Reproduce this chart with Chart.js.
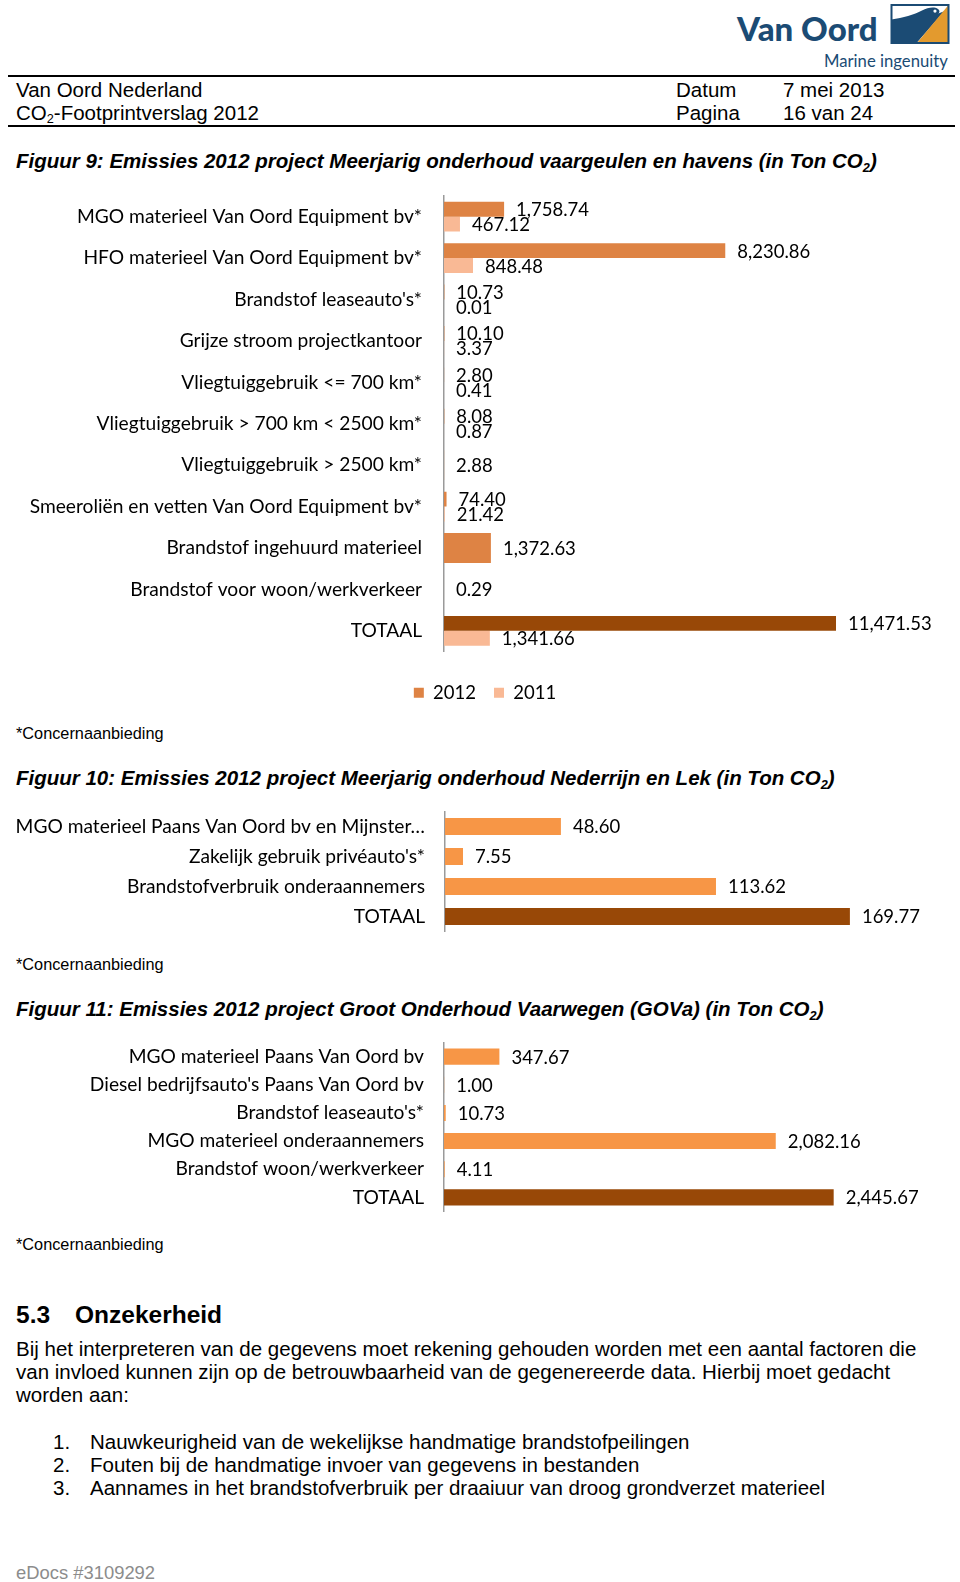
<!DOCTYPE html>
<html><head><meta charset="utf-8">
<script src="https://cdn.jsdelivr.net/npm/chart.js@4.4.1/dist/chart.umd.min.js"></script>
<style>
html,body{margin:0;padding:0;background:#fff;}
#page{position:relative;width:960px;height:1582px;overflow:hidden;font-family:"Liberation Sans",Arial,sans-serif;color:#000;}
.t{position:absolute;white-space:nowrap;line-height:1;}
.rule{position:absolute;left:8px;width:947px;height:2px;background:#000;}
.sub{font-size:0.62em;position:relative;top:0.3em;}
.hd{font-size:20.5px;}
.ttl{font-size:20.5px;font-weight:bold;font-style:italic;left:16px;}
.cn{font-size:16.3px;left:16px;}
.p{position:absolute;left:16px;font-size:20.5px;line-height:23.2px;white-space:nowrap;}
canvas{position:absolute;left:0;}
</style></head>
<body><div id="page">
<svg style="position:absolute;left:0;top:0" width="960" height="75">
  <rect x="891.5" y="5" width="57" height="38" fill="#fff"/>
  <path d="M891.5,19.5 C903,18 914,14.5 922,10.5 C928,7.5 934,6.3 938,9 C940.5,11 939.5,13.5 937,14 L944.2,11.2 L917,42.5 L891.5,42.5 Z" fill="#1b4b74"/>
  <circle cx="935" cy="11.1" r="1.6" fill="#fff"/>
  <polygon points="917,43 948.5,43 948.5,5" fill="#e39a2e"/>
  <rect x="891.5" y="5" width="57" height="38" fill="none" stroke="#1b4b74" stroke-width="2"/>
</svg>
<div class="t" style="left:737px;top:12px;font-family:Lato;font-weight:900;font-size:33px;color:#1b4b74;">Van Oord</div>
<div class="t" style="left:824px;top:53px;font-family:Lato;font-size:16.7px;color:#1b4b74;">Marine ingenuity</div>

<div class="rule" style="top:74.5px;"></div>
<div class="t hd" style="left:16px;top:79.5px;">Van Oord Nederland</div>
<div class="t hd" style="left:16px;top:102.5px;">CO<span class="sub">2</span>-Footprintverslag 2012</div>
<div class="t hd" style="left:676px;top:79.5px;">Datum</div>
<div class="t hd" style="left:783px;top:79.5px;">7 mei 2013</div>
<div class="t hd" style="left:676px;top:102.5px;">Pagina</div>
<div class="t hd" style="left:783px;top:102.5px;">16 van 24</div>
<div class="rule" style="top:124.5px;"></div>

<div class="t ttl" style="top:151px;">Figuur 9: Emissies 2012 project Meerjarig onderhoud vaargeulen en havens (in Ton CO<span class="sub">2</span>)</div>
<canvas id="c1" width="960" height="528" style="top:184px;width:960px;height:528px;"></canvas>
<div class="t cn" style="top:725px;">*Concernaanbieding</div>

<div class="t ttl" style="top:768px;">Figuur 10: Emissies 2012 project Meerjarig onderhoud Nederrijn en Lek (in Ton CO<span class="sub">2</span>)</div>
<canvas id="c2" width="960" height="143" style="top:800px;width:960px;height:143px;"></canvas>
<div class="t cn" style="top:956px;">*Concernaanbieding</div>

<div class="t ttl" style="top:999px;">Figuur 11: Emissies 2012 project Groot Onderhoud Vaarwegen (GOVa) (in Ton CO<span class="sub">2</span>)</div>
<canvas id="c3" width="960" height="192" style="top:1030.5px;width:960px;height:192px;"></canvas>
<div class="t cn" style="top:1236px;">*Concernaanbieding</div>

<div class="t" style="left:16px;top:1303px;font-size:24.5px;font-weight:bold;">5.3</div>
<div class="t" style="left:75px;top:1303px;font-size:24.5px;font-weight:bold;">Onzekerheid</div>
<div class="p" style="top:1337px;">Bij het interpreteren van de gegevens moet rekening gehouden worden met een aantal factoren die<br>van invloed kunnen zijn op de betrouwbaarheid van de gegenereerde data. Hierbij moet gedacht<br>worden aan:</div>
<div class="p" style="top:1430px;left:53px;">1.<br>2.<br>3.</div>
<div class="p" style="top:1430px;left:90px;">Nauwkeurigheid van de wekelijkse handmatige brandstofpeilingen<br>Fouten bij de handmatige invoer van gegevens in bestanden<br>Aannames in het brandstofverbruik per draaiuur van droog grondverzet materieel</div>
<div class="t" style="left:16px;top:1564px;font-size:18.4px;color:#8c8c8c;">eDocs #3109292</div>
</div>

<script>
// ---- data ----
const fig9Categories = [
  "MGO materieel Van Oord Equipment bv*",
  "HFO materieel Van Oord Equipment bv*",
  "Brandstof leaseauto's*",
  "Grijze stroom projectkantoor",
  "Vliegtuiggebruik <= 700 km*",
  "Vliegtuiggebruik > 700 km < 2500 km*",
  "Vliegtuiggebruik > 2500 km*",
  "Smeeroliën en vetten Van Oord Equipment bv*",
  "Brandstof ingehuurd materieel",
  "Brandstof voor woon/werkverkeer",
  "TOTAAL"
];
const fig9Values2012 = [1758.74, 8230.86, 10.73, 10.10, 2.80, 8.08, 2.88, 74.40, 1372.63, 0.29, 11471.53];
const fig9Values2011 = [467.12, 848.48, 0.01, 3.37, 0.41, 0.87, null, 21.42, null, null, 1341.66];
const fig9SeriesNames = ["2012", "2011"];

const fig10Categories = [
  "MGO materieel Paans Van Oord bv en Mijnster…",
  "Zakelijk gebruik privéauto's*",
  "Brandstofverbruik onderaannemers",
  "TOTAAL"
];
const fig10Values = [48.60, 7.55, 113.62, 169.77];

const fig11Categories = [
  "MGO materieel Paans Van Oord bv",
  "Diesel bedrijfsauto's Paans Van Oord bv",
  "Brandstof leaseauto's*",
  "MGO materieel onderaannemers",
  "Brandstof woon/werkverkeer",
  "TOTAAL"
];
const fig11Values = [347.67, 1.00, 10.73, 2082.16, 4.11, 2445.67];

// ---- styling ----
const C2012 = '#DE8344', C2011 = '#F9B995', CLIGHT = '#F79646', CTOTAL = '#984807';
const TICKFONT = {family: 'Lato', size: 19.2};
const VALFONT = {family: 'Lato', size: 18.5};
const fmt = v => v.toLocaleString('en-US', {minimumFractionDigits: 2, maximumFractionDigits: 2});

const valueLabels = {
  id: 'valueLabels',
  afterDatasetsDraw(chart) {
    const ctx = chart.ctx;
    ctx.save();
    ctx.font = VALFONT.size + 'px ' + VALFONT.family;
    ctx.fillStyle = '#000';
    ctx.textAlign = 'left';
    ctx.textBaseline = 'middle';
    chart.data.datasets.forEach((ds, i) => {
      const meta = chart.getDatasetMeta(i);
      meta.data.forEach((bar, j) => {
        const v = ds.data[j];
        if (v === null || v === undefined) return;
        ctx.fillText(fmt(v), bar.x + 12, bar.y + 1);
      });
    });
    ctx.restore();
  }
};

function totalColor(base, n) {
  return c => (c.dataIndex === n - 1 ? CTOTAL : base);
}

function catAxis(width, gap) {
  return {
    grid: {display: false, drawTicks: true, tickLength: gap},
    border: {display: true, color: '#9a9a9a', width: 1.5},
    ticks: {font: TICKFONT, color: '#000', padding: 0, autoSkip: false},
    afterFit: s => { s.width = width; }
  };
}

function build() {
  Chart.defaults.font.family = 'Lato';
  Chart.defaults.color = '#000';

  // Figure 9
  new Chart(document.getElementById('c1'), {
    type: 'bar',
    data: {
      labels: fig9Categories,
      datasets: [
        {label: fig9SeriesNames[0], data: fig9Values2012, backgroundColor: totalColor(C2012, fig9Categories.length), borderWidth: 0},
        {label: fig9SeriesNames[1], data: fig9Values2011, backgroundColor: C2011, borderWidth: 0}
      ]
    },
    options: {
      indexAxis: 'y', responsive: false, animation: false,
      layout: {padding: {top: 12, left: 10, right: 0, bottom: 0}},
      datasets: {bar: {categoryPercentage: 0.72, barPercentage: 1, skipNull: true}},
      plugins: {
        tooltip: {enabled: false},
        legend: {position: 'bottom', labels: {boxWidth: 10, boxHeight: 10, padding: 18, font: VALFONT, color: '#000'}}
      },
      scales: {
        x: {min: 0, max: 15100, display: true, ticks: {display: false}, grid: {display: false, drawTicks: false}, border: {display: false},
            afterFit: s => { s.height = 14; }},
        y: catAxis(434, 22)
      }
    },
    plugins: [valueLabels]
  });

  const single = (id, labels, values, max, axisX, padTop, padBottom) => new Chart(document.getElementById(id), {
    type: 'bar',
    data: {labels, datasets: [{label: '2012', data: values, backgroundColor: totalColor(CLIGHT, labels.length), borderWidth: 0}]},
    options: {
      indexAxis: 'y', responsive: false, animation: false,
      layout: {padding: {top: padTop, left: 0, right: 38, bottom: padBottom}},
      datasets: {bar: {categoryPercentage: 0.57, barPercentage: 1}},
      plugins: {tooltip: {enabled: false}, legend: {display: false}},
      scales: {
        x: {min: 0, max: max, display: false},
        y: catAxis(axisX, 20)
      }
    },
    plugins: [valueLabels]
  });

  single('c2', fig10Categories, fig10Values, 200, 445, 11.5, 11.5);
  single('c3', fig11Categories, fig11Values, 3000, 444, 11.5, 11.5);
}

Promise.all([
  document.fonts.load('19.2px Lato'),
  document.fonts.load('900 33px Lato')
]).then(build, build);
</script>
</body></html>
